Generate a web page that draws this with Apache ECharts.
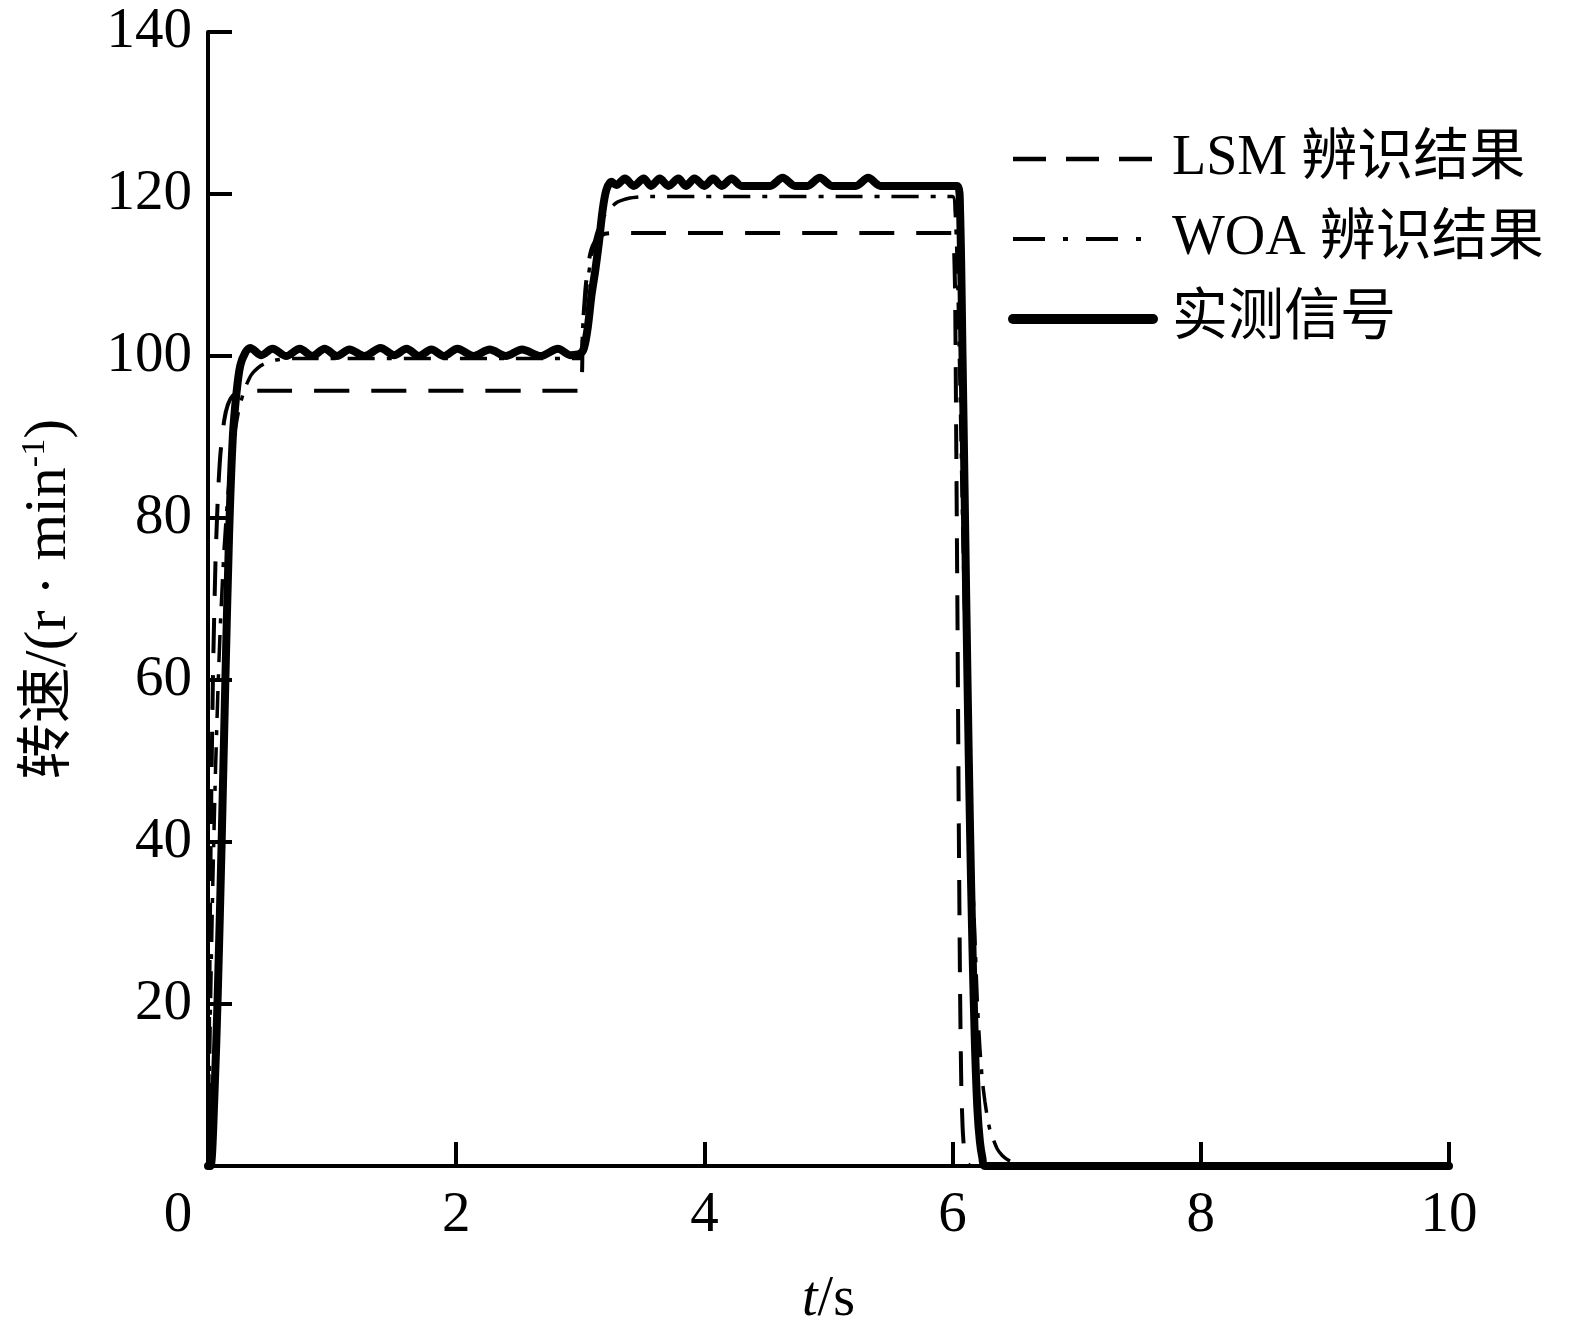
<!DOCTYPE html>
<html>
<head>
<meta charset="utf-8">
<script src="https://cdn.jsdelivr.net/npm/echarts@6/dist/echarts.min.js"></script>
<style>
html,body{margin:0;padding:0;background:#fff;}
#main{width:1571px;height:1333px;}
</style>
</head>
<body>
<div id="main"></div>
<script>
// ---- data ----
const seriesNames = ['LSM 辨识结果', 'WOA 辨识结果', '实测信号'];

const tSolid = [0,0.02,0.05,0.08,0.11,0.14,0.17,0.2,0.23,0.26,0.3,0.34,0.43,0.52,0.63,0.74,0.84,0.94,1.04,1.14,1.26,1.39,1.5,1.6,1.7,1.8,1.9,2.01,2.14,2.27,2.4,2.53,2.68,2.82,2.92,3.0,
  3.03,3.06,3.09,3.12,3.15,3.18,3.21,3.25,3.29,3.36,3.43,3.51,3.57,3.64,3.71,3.79,3.85,3.92,4.0,4.07,4.14,4.22,4.3,4.53,4.63,4.73,4.83,4.93,5.03,5.22,5.32,5.42,6.04,
  6.06,6.08,6.1,6.12,6.14,6.16,6.18,6.2,6.22,6.24,6.26,10];
const vSolid = [0,0,8,22,40,60,78,90,95.5,98.8,100.4,101,100.1,100.9,100,100.9,100,100.9,100,100.8,100,101,100.1,100.9,100,100.8,100,100.9,100,100.8,100,100.8,100,100.9,100.1,100.3,
  101,103.5,107.5,110.5,114,118,120.5,121.5,121.1,121.9,121.0,121.9,121.0,121.9,121.0,121.9,121.0,121.9,121.0,121.9,121.0,121.9,121.0,121.0,122,121.0,121.0,122,121.0,121.0,122,121.0,121.0,
  118,100,80,60,42,27,15,7,3,1,0,0];

const tLSM = [0,0.02,0.04,0.06,0.08,0.1,0.13,0.16,0.2,0.25,0.3,
  3.0,3.02,3.04,3.06,3.08,3.1,3.13,3.16,3.2,3.3,
  6.0,6.01,6.02,6.03,6.04,6.05,6.06,6.07,6.08,6.09,6.1,6.12,6.15,10];
const vLSM = [0,37.6,60.5,74.4,82.8,87.9,92.0,94.0,95.1,95.5,95.7,
  95.7,103.4,108.0,110.9,112.6,113.6,114.4,114.8,115.1,115.2,
  115.2,114,108,88,66,42,22,10,5,2.5,1.2,0.3,0,0];

const tWOA = [0,0.02,0.04,0.06,0.08,0.1,0.13,0.16,0.2,0.25,0.3,0.35,0.4,0.45,0.55,0.7,
  3.0,3.02,3.04,3.06,3.08,3.1,3.13,3.16,3.2,3.25,3.3,3.35,3.4,3.45,3.55,
  6.0,6.02,6.04,6.06,6.08,6.1,6.12,6.14,6.16,6.18,6.2,6.22,6.24,6.26,6.28,6.3,6.33,6.36,6.4,6.45,6.5,6.55,6.6,10];
const vWOA = [0,19.9,35.8,48.6,58.7,66.9,76.2,82.8,88.9,93.5,96.1,97.7,98.5,99.0,99.5,99.7,
  99.7,103.7,106.9,109.4,111.4,113.1,115.0,116.3,117.5,118.4,119.0,119.3,119.5,119.6,119.7,
  119.7,118,110,96,80,66,54,44,36,28,20,14.5,10.5,8,6,4.5,3.2,2.1,1.3,0.7,0.35,0.15,0,0];

const xMin = 0, xMax = 10, xStep = 2;
const yMin = 0, yMax = 140, yStep = 20;

// ---- chart ----
const pair = (t, v) => t.map((x, i) => [x, v[i]]);
const FONT = "'Liberation Serif', 'Times New Roman', 'Noto Sans CJK SC', serif";

const chart = echarts.init(document.getElementById('main'), null, {renderer: 'canvas'});
chart.setOption({
  animation: false,
  backgroundColor: '#fff',
  grid: {left: 208, right: 122, top: 32, bottom: 167, containLabel: false},
  legend: {
    orient: 'vertical',
    left: 1003,
    top: 124,
    itemWidth: 140,
    itemHeight: 20,
    itemGap: 20,
    selectedMode: false,
    itemStyle: {opacity: 0},
    textStyle: {fontFamily: FONT, fontSize: 56, lineHeight: 60, color: '#000', padding: [0, 0, 0, 14]},
    data: [
      {name: seriesNames[0], itemStyle: {opacity: 0}, lineStyle: {width: 4.5, type: [33, 20], color: '#000'}},
      {name: seriesNames[1], itemStyle: {opacity: 0}, lineStyle: {width: 4, type: [32, 18, 5, 18], color: '#000'}},
      {name: seriesNames[2], itemStyle: {opacity: 0}, lineStyle: {width: 10, type: 'solid', cap: 'round', color: '#000'}}
    ]
  },
  xAxis: {
    type: 'value', min: xMin, max: xMax, interval: xStep,
    name: '{i|t}{a|/s}',
    nameLocation: 'middle',
    nameGap: 106,
    nameTextStyle: {
      rich: {
        i: {fontFamily: FONT, fontSize: 56, fontStyle: 'italic', color: '#000'},
        a: {fontFamily: FONT, fontSize: 56, color: '#000'}
      }
    },
    axisLine: {show: true, lineStyle: {color: '#000', width: 4}},
    axisTick: {show: true, inside: true, length: 24, lineStyle: {color: '#000', width: 4}},
    splitLine: {show: false},
    axisLabel: {
      margin: 22,
      fontFamily: FONT, fontSize: 57, color: '#000',
      formatter: v => v === 0 ? '{z|0}' : String(v),
      rich: {z: {fontFamily: FONT, fontSize: 57, color: '#000', padding: [0, 60, 0, 0]}}
    }
  },
  yAxis: {
    type: 'value', min: yMin, max: yMax, interval: yStep,
    name: '{c|转速}{a|/(r · min}{s|-1}{a|)}',
    nameLocation: 'middle',
    nameGap: 128,
    nameRotate: 90,
    nameTextStyle: {
      rich: {
        c: {fontFamily: FONT, fontSize: 56, color: '#000', lineHeight: 62},
        a: {fontFamily: FONT, fontSize: 60, color: '#000', lineHeight: 62},
        s: {fontFamily: FONT, fontSize: 34, color: '#000', verticalAlign: 'top', lineHeight: 62, padding: [0, 0, 24, 0]}
      }
    },
    axisLine: {show: true, lineStyle: {color: '#000', width: 4}},
    axisTick: {show: true, inside: true, length: 24, lineStyle: {color: '#000', width: 4}},
    splitLine: {show: false},
    axisLabel: {
      margin: 16,
      fontFamily: FONT, fontSize: 57, color: '#000',
      formatter: v => v === 0 ? '' : String(v)
    }
  },
  series: [
    {
      name: seriesNames[2], type: 'line', data: pair(tSolid, vSolid),
      showSymbol: false, symbol: 'none', smooth: 0.3, z: 2,
      itemStyle: {color: '#000'},
      lineStyle: {color: '#000', width: 8, type: 'solid', cap: 'round', join: 'round'}
    },
    {
      name: seriesNames[0], type: 'line', data: pair(tLSM, vLSM),
      showSymbol: false, symbol: 'none', smooth: 0.2, z: 3,
      itemStyle: {color: '#000'},
      lineStyle: {color: '#000', width: 4, type: [35, 22]}
    },
    {
      name: seriesNames[1], type: 'line', data: pair(tWOA, vWOA),
      showSymbol: false, symbol: 'none', smooth: 0.2, z: 4,
      itemStyle: {color: '#000'},
      lineStyle: {color: '#000', width: 3.5, type: [27, 12, 5, 12]}
    }
  ]
});
</script>
</body>
</html>
